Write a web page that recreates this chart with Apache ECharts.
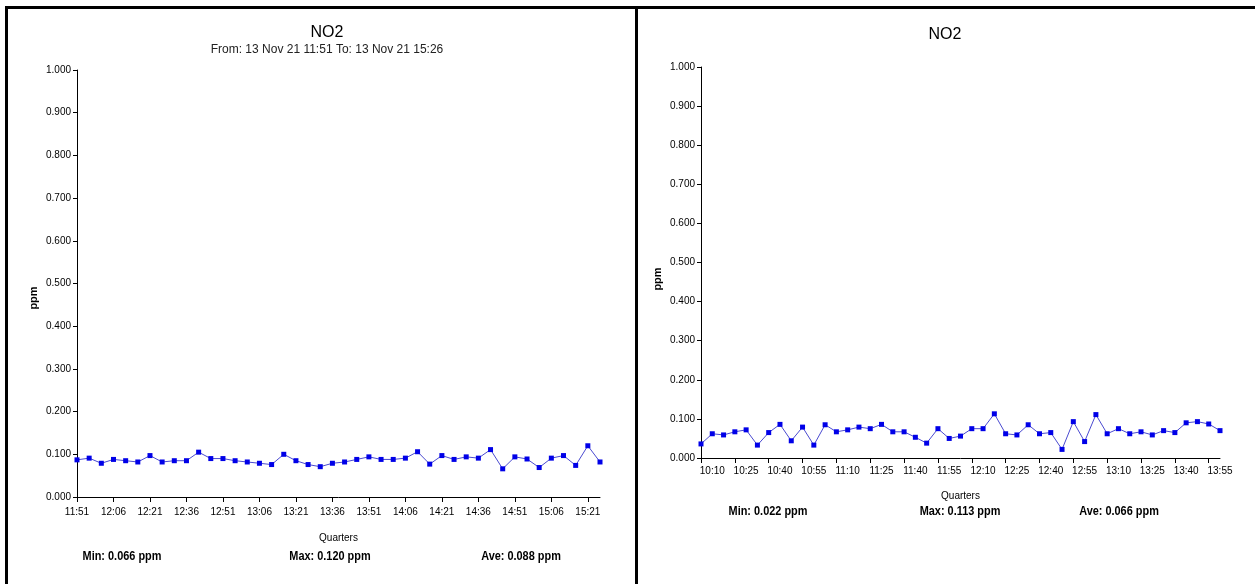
<!DOCTYPE html>
<html>
<head>
<meta charset="utf-8">
<script src="https://cdn.jsdelivr.net/npm/echarts@6/dist/echarts.min.js"></script>
<style>
    html, body { margin: 0; padding: 0; background: #fff; }
    #chart { width: 1255px; height: 584px; }
</style>
</head>
<body>
<div id="chart"></div>
<script>
    // left panel: 13 Nov 21 11:51 - 15:26
    var leftTimes = ['11:51','11:56','12:01','12:06','12:11','12:16','12:21','12:26','12:31','12:36',
        '12:41','12:46','12:51','12:56','13:01','13:06','13:11','13:16','13:21','13:26',
        '13:31','13:36','13:41','13:46','13:51','13:56','14:01','14:06','14:11','14:16',
        '14:21','14:26','14:31','14:36','14:41','14:46','14:51','14:56','15:01','15:06',
        '15:11','15:16','15:21','15:26'];
    var leftNo2 = [0.087,0.091,0.079,0.088,0.085,0.082,0.097,0.082,0.085,0.085,
        0.105,0.090,0.090,0.085,0.082,0.079,0.076,0.100,0.085,0.076,
        0.071,0.079,0.082,0.088,0.094,0.088,0.088,0.091,0.106,0.077,
        0.097,0.088,0.094,0.091,0.111,0.066,0.094,0.089,0.069,0.091,
        0.097,0.074,0.120,0.082];
    var leftStats = ['Min: 0.066 ppm', 'Max: 0.120 ppm', 'Ave: 0.088 ppm'];

    // right panel
    var rightTimes = ['10:05','10:10','10:15','10:20','10:25','10:30','10:35','10:40','10:45','10:50',
        '10:55','11:00','11:05','11:10','11:15','11:20','11:25','11:30','11:35','11:40',
        '11:45','11:50','11:55','12:00','12:05','12:10','12:15','12:20','12:25','12:30',
        '12:35','12:40','12:45','12:50','12:55','13:00','13:05','13:10','13:15','13:20',
        '13:25','13:30','13:35','13:40','13:45','13:50','13:55'];
    var rightNo2 = [0.036,0.062,0.059,0.067,0.072,0.033,0.065,0.086,0.044,0.079,
        0.033,0.085,0.067,0.072,0.079,0.075,0.086,0.067,0.067,0.053,
        0.038,0.075,0.050,0.056,0.075,0.075,0.113,0.062,0.059,0.085,
        0.062,0.065,0.022,0.093,0.042,0.111,0.062,0.075,0.062,0.067,
        0.059,0.070,0.065,0.090,0.093,0.087,0.070];
    var rightStats = ['Min: 0.022 ppm', 'Max: 0.113 ppm', 'Ave: 0.066 ppm'];

    var font = 'Liberation Sans, Arial, sans-serif';

    function yAxis(gridIndex) {
        return {
            gridIndex: gridIndex,
            type: 'value',
            min: 0,
            max: 1,
            interval: 0.1,
            axisLine: { show: true, lineStyle: { color: '#000', width: 1 } },
            axisTick: { show: true, inside: false, length: 4, lineStyle: { color: '#000' } },
            axisLabel: {
                fontFamily: font, fontSize: 10, color: '#000', margin: 6,
                formatter: function (v) { return v.toFixed(3); }
            },
            splitLine: { show: false }
        };
    }

    function xAxis(gridIndex, data, labelFn, tickFn, margin, nameGap) {
        return {
            gridIndex: gridIndex,
            type: 'category',
            boundaryGap: false,
            data: data,
            name: 'Quarters',
            nameLocation: 'middle',
            nameGap: nameGap,
            nameTextStyle: { fontFamily: font, fontSize: 10, color: '#000' },
            axisLine: { show: true, onZero: false, lineStyle: { color: '#000', width: 1 } },
            axisTick: { show: true, interval: tickFn, length: 5, lineStyle: { color: '#000' } },
            axisLabel: { interval: labelFn, fontFamily: font, fontSize: 10, color: '#000', margin: margin },
            splitLine: { show: false }
        };
    }

    function line(idx, data) {
        return {
            type: 'line',
            xAxisIndex: idx,
            yAxisIndex: idx,
            data: data,
            symbol: 'rect',
            symbolSize: 5,
            showAllSymbol: true,
            lineStyle: { color: '#4a4ad0', width: 1 },
            itemStyle: { color: '#0000e8' },
            animation: false
        };
    }

    // bold condensed stats line, centred on x
    function statText(x, y, text) {
        return {
            type: 'text', x: x, y: y, scaleX: 0.84,
            style: { text: text, font: 'bold 13px ' + font, fill: '#000',
                     textAlign: 'center', textVerticalAlign: 'middle' }
        };
    }

    function ppmText(x, y) {
        return {
            type: 'text', x: x, y: y, rotation: Math.PI / 2,
            style: { text: 'ppm', font: 'bold 11px ' + font, fill: '#000',
                     textAlign: 'center', textVerticalAlign: 'middle' }
        };
    }

    var option = {
        animation: false,
        title: [
            {
                text: 'NO2', subtext: 'From: 13 Nov 21 11:51 To: 13 Nov 21 15:26',
                left: 322, top: 20, textAlign: 'center', itemGap: 3,
                textStyle: { fontFamily: font, fontSize: 16, fontWeight: 'normal', color: '#000' },
                subtextStyle: { fontFamily: font, fontSize: 12, color: '#222' }
            },
            {
                text: 'NO2', left: 940, top: 22, textAlign: 'center',
                textStyle: { fontFamily: font, fontSize: 16, fontWeight: 'normal', color: '#000' }
            }
        ],
        grid: [
            { left: 77, top: 70, width: 523, height: 427 },
            { left: 701, top: 67, width: 519, height: 391 }
        ],
        xAxis: [
            xAxis(0, leftTimes,
                function (i) { return i % 3 === 0; },
                function (i) { return i % 3 === 0; }, 10, 36),
            xAxis(1, rightTimes,
                function (i) { return i % 3 === 1; },
                function (i) { return i % 3 === 0; }, 8, 33)
        ],
        yAxis: [yAxis(0), yAxis(1)],
        series: [line(0, leftNo2), line(1, rightNo2)],
        graphic: [
            { type: 'rect', shape: { x: 5, y: 6, width: 1250, height: 3 }, style: { fill: '#000' } },
            { type: 'rect', shape: { x: 5, y: 6, width: 3, height: 578 }, style: { fill: '#000' } },
            { type: 'rect', shape: { x: 635, y: 6, width: 3, height: 578 }, style: { fill: '#000' } },
            ppmText(34, 298),
            ppmText(658, 279),
            statText(122, 556, leftStats[0]),
            statText(330, 556, leftStats[1]),
            statText(521, 556, leftStats[2]),
            statText(768, 511, rightStats[0]),
            statText(960, 511, rightStats[1]),
            statText(1119, 511, rightStats[2])
        ]
    };

    var chart = echarts.init(document.getElementById('chart'));
    chart.setOption(option);
</script>
</body>
</html>
